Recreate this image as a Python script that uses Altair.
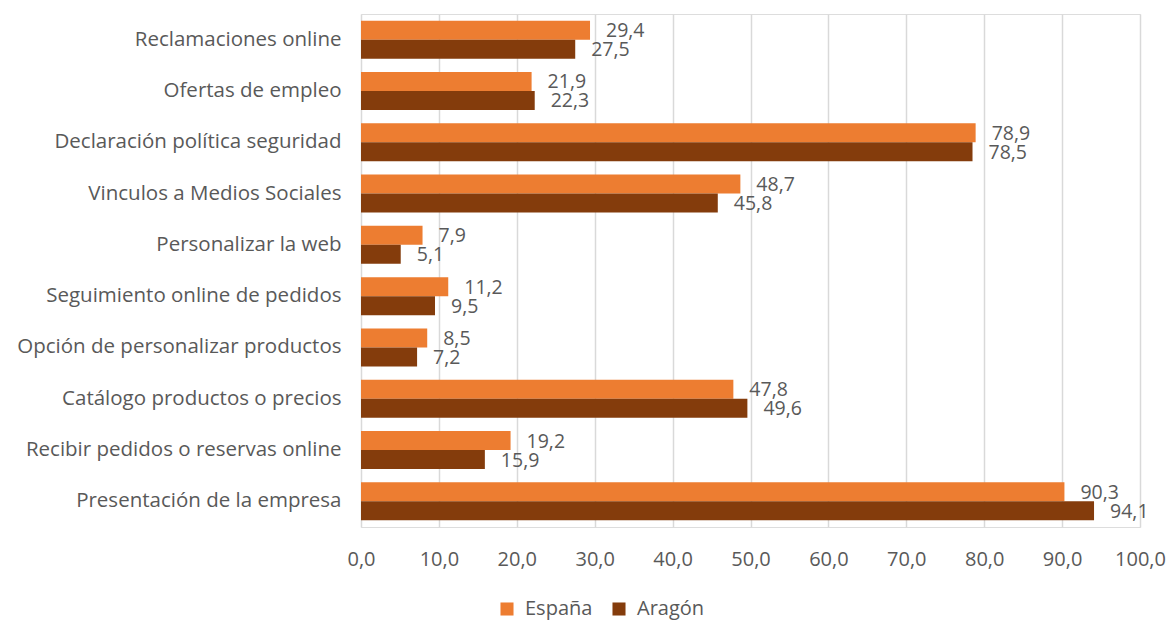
import altair as alt
import pandas as pd

categories = [
    "Reclamaciones online",
    "Ofertas de empleo",
    "Declaración política seguridad",
    "Vinculos a Medios Sociales",
    "Personalizar la web",
    "Seguimiento online de pedidos",
    "Opción de personalizar productos",
    "Catálogo productos o precios",
    "Recibir pedidos o reservas online",
    "Presentación de la empresa",
]
espana = [29.4, 21.9, 78.9, 48.7, 7.9, 11.2, 8.5, 47.8, 19.2, 90.3]
aragon = [27.5, 22.3, 78.5, 45.8, 5.1, 9.5, 7.2, 49.6, 15.9, 94.1]
series = ["España", "Aragón"]
colors = ["#ED7D31", "#843C0C"]

rows = []
for c, e, a in zip(categories, espana, aragon):
    rows.append({"cat": c, "serie": "España", "v": e})
    rows.append({"cat": c, "serie": "Aragón", "v": a})
df = pd.DataFrame(rows)

FONT = "Open Sans"
TXT = "#595959"

y_enc = alt.Y("cat:N", sort=categories, title=None,
              scale=alt.Scale(paddingInner=0.26, paddingOuter=0.13),
              axis=alt.Axis(labelFont=FONT, labelFontSize=20.5, labelColor=TXT,
                            labelPadding=20, ticks=False, domain=False,
                            labelLimit=400, grid=False))
yoff = alt.YOffset("serie:N", sort=series, scale=alt.Scale(domain=series, paddingInner=0, paddingOuter=0))

x_enc = alt.X("v:Q", title=None,
              scale=alt.Scale(domain=[0, 100], nice=False),
              axis=alt.Axis(values=list(range(0, 101, 10)),
                            labelExpr="replace(format(datum.value, '.1f'), '.', ',')",
                            labelFont=FONT, labelFontSize=20, labelColor=TXT,
                            labelPadding=22, ticks=False, domain=False,
                            labelFlush=False, labelOverlap=False, labelBound=False,
                            grid=True, gridColor="#D9D9D9", gridWidth=1.5))

color = alt.Color("serie:N", sort=series,
                  scale=alt.Scale(domain=series, range=colors),
                  legend=alt.Legend(title=None, orient="none", direction="horizontal",
                                    legendX=136, legendY=585,
                                    symbolType="square", symbolSize=170,
                                    symbolStrokeWidth=0, symbolOpacity=1,
                                    labelFont=FONT, labelFontSize=20, labelColor=TXT,
                                    columnPadding=16, labelOffset=8))

base = alt.Chart(df)
bars = base.mark_bar(opacity=1).encode(y=y_enc, yOffset=yoff, x=x_enc, color=color)
labels = base.transform_calculate(
    lab="replace(format(datum.v, '.1f'), '.', ',')"
).mark_text(align="left", baseline="middle", dx=16, dy=1,
            font=FONT, fontSize=19.5, color=TXT).encode(
    y=alt.Y("cat:N", sort=categories), yOffset=yoff, x="v:Q", text="lab:N")

chart = (bars + labels).properties(
    width=779, height=513,
    autosize=alt.AutoSizeParams(type="none"),
    padding={"left": 353, "top": 6, "right": 26, "bottom": 95},
).configure_view(stroke=None).configure(background="white")

chart.save("out.html", embed_options={"renderer": "svg", "actions": False})
